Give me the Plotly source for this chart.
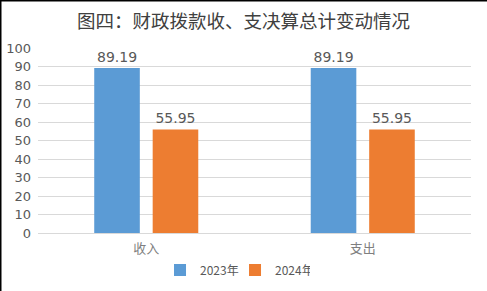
import plotly.graph_objects as go

categories = ["收入", "支出"]
series_names = ["2023年", "2024年"]
values_2023 = [89.19, 89.19]
values_2024 = [55.95, 55.95]
colors = ["#5B9BD5", "#ED7D31"]
tick_vals = list(range(0, 101, 10))

W, H = 487, 291
ml, mr, mt, mb = 38, 16, 48, 58
pw, ph = W - ml - mr, H - mt - mb

fig = go.Figure()
for name, vals, c in zip(series_names, [values_2023, values_2024], colors):
    fig.add_trace(go.Bar(
        x=categories, y=vals, name=name, marker=dict(color=c, line=dict(width=0)),
        text=[f"{v:.2f}" for v in vals], textposition="outside",
        textfont=dict(size=14, color="#595959", family="DejaVu Sans"),
        cliponaxis=False,
    ))

fig.update_layout(
    width=W, height=H,
    margin=dict(l=ml, r=mr, t=mt, b=mb, autoexpand=False),
    paper_bgcolor="white", plot_bgcolor="white",
    barmode="group", bargap=0.46, bargroupgap=0.22,
    title=dict(text="图四：财政拨款收、支决算总计变动情况", x=0.5, xanchor="center",
               y=1 - 22 / H, yanchor="middle",
               font=dict(size=18.5, color="#404040", family="Noto Sans CJK SC")),
    font=dict(family="Noto Sans CJK SC", color="#595959"),
    xaxis=dict(showgrid=False, showline=True, linecolor="#D9D9D9", linewidth=1,
               ticks="", tickfont=dict(size=13, color="#7F7F7F"), fixedrange=True,
               ticklabelstandoff=3),
    yaxis=dict(range=[0, 100], tickvals=tick_vals, showgrid=True, gridcolor="#D9D9D9",
               gridwidth=1, zeroline=False, showline=False, ticks="",
               tickfont=dict(size=13, color="#595959", family="DejaVu Sans"), ticklabelstandoff=6),
    legend=dict(orientation="h", x=0.455, xref="paper", xanchor="center",
                yref="container", y=1 - 270 / H, yanchor="middle",
                font=dict(size=12, color="#595959"), itemwidth=30, traceorder="normal",
                entrywidth=30, entrywidthmode="pixels", itemclick=False, tracegroupgap=0),
    showlegend=True,
    shapes=[
        dict(type="line", xref="paper", yref="paper", x0=-ml / pw, x1=(pw + mr) / pw,
             y0=1 + mt / ph, y1=1 + mt / ph, line=dict(color="black", width=3)),
        dict(type="line", xref="paper", yref="paper", x0=-ml / pw, x1=-ml / pw,
             y0=-mb / ph, y1=1 + mt / ph, line=dict(color="black", width=3)),
    ],
)

fig.write_html("out.html")
